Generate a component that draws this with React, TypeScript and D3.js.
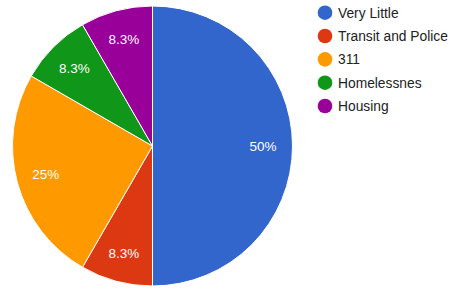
import * as d3 from 'd3';
import React from 'react';

const categories = ['Very Little', 'Transit and Police', '311', 'Homelessnes', 'Housing'];
const values = [6, 1, 3, 1, 1];
const labels = ['50%', '8.3%', '25%', '8.3%', '8.3%'];
const colors = ['#3366cc', '#dc3912', '#ff9900', '#109618', '#990099'];

export default function App() {
    const width = 457;
    const height = 290;
    const cx = 152.5;
    const cy = 146;
    const radius = 140;

    const pie = d3.pie<number>().sort(null).value(d => d);
    const arcs = pie(values);
    const arc = d3.arc<d3.PieArcDatum<number>>().innerRadius(0).outerRadius(radius);
    const labelArc = d3.arc<d3.PieArcDatum<number>>().innerRadius(radius * 0.79).outerRadius(radius * 0.79);

    const legendY = d3.scalePoint<string>().domain(categories).range([12.7, 106]);

    return (
        <svg width={width} height={height} style={{ position: 'absolute', left: 0, top: 0 }}
            fontFamily="Arial, 'Liberation Sans', sans-serif">
            <rect width={width} height={height} fill="#fff" />
            <g transform={`translate(${cx},${cy})`}>
                {arcs.map((a, i) => (
                    <path key={i} d={arc(a) || ''} fill={colors[i]} stroke="#fff" strokeWidth={1} />
                ))}
                {arcs.map((a, i) => {
                    const [x, y] = labelArc.centroid(a);
                    return (
                        <text key={i} x={x} y={y} dy="0.35em" textAnchor="middle" fill="#fff" fontSize={13.5}>
                            {labels[i]}
                        </text>
                    );
                })}
            </g>
            <g>
                {categories.map((c, i) => (
                    <g key={c} transform={`translate(325,${legendY(c)})`}>
                        <circle r={7.3} fill={colors[i]} />
                        <text x={13} dy="0.35em" fontSize={13.8} fill="#222">{c}</text>
                    </g>
                ))}
            </g>
        </svg>
    );
}
